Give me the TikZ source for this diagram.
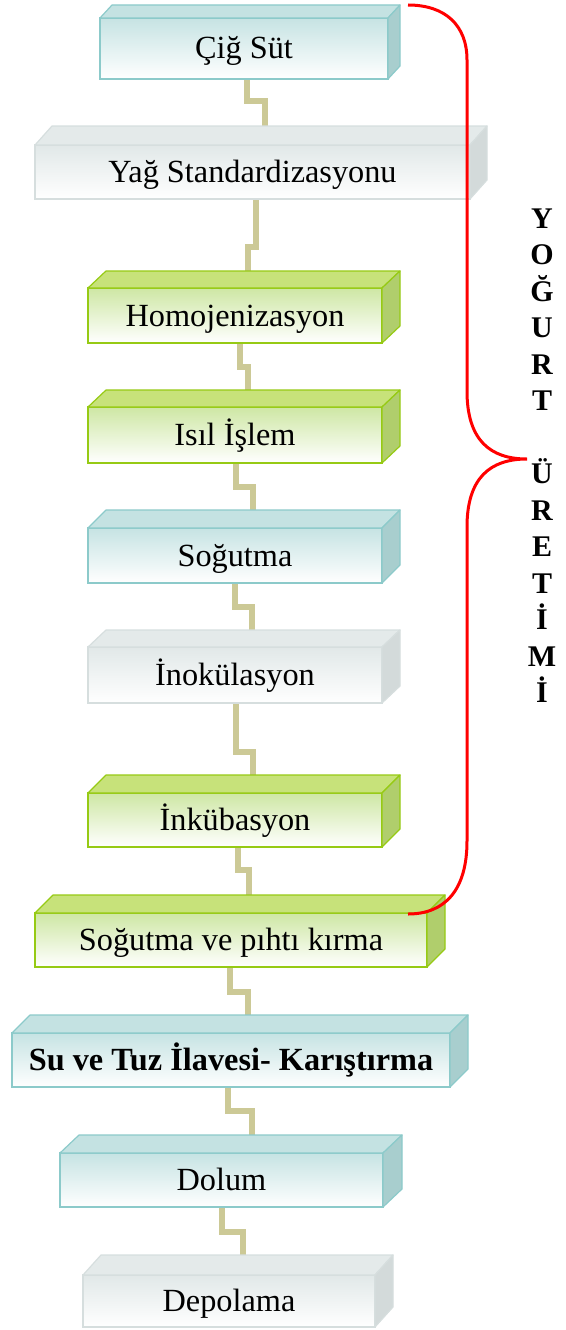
\documentclass[tikz,border=0pt]{standalone}
\usepackage{fontspec}
\setmainfont{Liberation Serif}
\usetikzlibrary{calc}
\pgfdeclarelayer{bg}
\pgfsetlayers{bg,main}
\definecolor{tealF}{RGB}{198,227,227}
\definecolor{tealT}{RGB}{196,226,226}
\definecolor{tealR}{RGB}{168,206,206}
\definecolor{tealB}{RGB}{140,202,202}
\definecolor{grayF}{RGB}{225,232,232}
\definecolor{grayT}{RGB}{228,234,234}
\definecolor{grayR}{RGB}{211,218,218}
\definecolor{grayB}{RGB}{214,222,222}
\definecolor{greenF}{RGB}{206,231,164}
\definecolor{greenT}{RGB}{199,226,122}
\definecolor{greenR}{RGB}{176,206,108}
\definecolor{greenB}{RGB}{150,202,20}
\definecolor{connC}{RGB}{204,201,150}
\definecolor{braceC}{RGB}{255,0,0}
\tikzset{
  frontbox/.style={rectangle, line width=1.2pt, inner sep=0pt, outer sep=0pt,
    font=\fontsize{32.3}{37}\selectfont, text height=21pt, text depth=0pt},
  sideface/.style={line width=1.2pt, line join=round},
  connector/.style={draw=connC, line width=5.5pt},
  letter/.style={font=\fontsize{30}{35}\selectfont\bfseries, inner sep=0pt,
    text height=20pt, text depth=0pt},
  bracepath/.style={draw=braceC, line width=3pt}
}
% #1 name, #2 x, #3 y, #4 width, #5 height, #6 dx, #7 dy, #8 scheme, #9 text
\newcommand{\tdbox}[9]{%
  \node[frontbox, draw=#8B, top color=#8F, bottom color=white,
        minimum width=#4pt, minimum height=#5pt, anchor=north west] (#1) at (#2,#3) {#9};
  \path[sideface, fill=#8T, draw=#8B] (#1.north west) -- ++(#6,-#7)
     -- ($(#1.north east)+(#6,-#7)$) -- (#1.north east) -- cycle;
  \path[sideface, fill=#8R, draw=#8B] (#1.north east) -- ++(#6,-#7)
     -- ($(#1.south east)+(#6,-#7)$) -- (#1.south east) -- cycle;
  \coordinate (#1T) at ($(#1.north)+(#6,-#7)$);
}
% #1 from, #2 to, #3 start x, #4 jog y, #5 end x
\newcommand{\stepconn}[5]{%
  \begin{pgfonlayer}{bg}
  \draw[connector] (#3,0 |- #1.south) |- (#5,#4) -- (#5,0 |- #2T);
  \end{pgfonlayer}
}
\begin{document}
\begin{tikzpicture}[x=1pt,y=-1pt]
\useasboundingbox (0,0) rectangle (565,1330);

\tdbox{c1}{100}{18}{288}{61}{12}{13}{teal}{Çiğ Süt}
\tdbox{c2}{35}{145}{435}{54}{17}{19}{gray}{Yağ Standardizasyonu}
\tdbox{c3}{88}{288}{294}{55}{18}{17}{green}{Homojenizasyon}
\tdbox{c4}{88}{407}{294}{56}{18}{17}{green}{Isıl İşlem}
\tdbox{c5}{88}{528}{294}{55}{18}{18}{teal}{Soğutma}
\tdbox{c6}{88}{647}{294}{56}{18}{17}{gray}{İnokülasyon}
\tdbox{c7}{88}{793}{294}{54}{18}{18}{green}{İnkübasyon}
\tdbox{c8}{35}{913}{392}{54}{18}{18}{green}{Soğutma ve pıhtı kırma}
\tdbox{c9}{12}{1033}{438}{54}{18}{18}{teal}{\textbf{Su ve Tuz İlavesi- Karıştırma}}
\tdbox{c10}{60}{1153}{323}{54}{19}{18}{teal}{Dolum}
\tdbox{c11}{83}{1275}{292}{52}{18}{20}{gray}{Depolama}

\stepconn{c1}{c2}{247}{101}{265}
\stepconn{c2}{c3}{256}{247}{248}
\stepconn{c3}{c4}{240}{367}{248}
\stepconn{c4}{c5}{236}{487}{253}
\stepconn{c5}{c6}{235}{607}{252}
\stepconn{c6}{c7}{236}{752}{253}
\stepconn{c7}{c8}{238}{870}{249}
\stepconn{c8}{c9}{230}{992}{248}
\stepconn{c9}{c10}{228}{1111}{252}
\stepconn{c10}{c11}{222}{1232}{243}

\foreach \ch/\k in {Y/0,O/1,Ğ/2,U/3,R/4,T/5,Ü/7,R/8,E/9,T/10,İ/11,M/12,İ/13}
  \node[letter] (L\k) at (542,218+36.5*\k) {\ch};

\draw[bracepath] (408,5) .. controls (445,5) and (467,25) .. (467,60)
  -- (467,391) .. controls (467,440) and (490,459) .. (527,459)
  .. controls (490,459) and (467,478) .. (467,527)
  -- (467,841) .. controls (467,890) and (445,914) .. (408,914);
\end{tikzpicture}
\end{document}
